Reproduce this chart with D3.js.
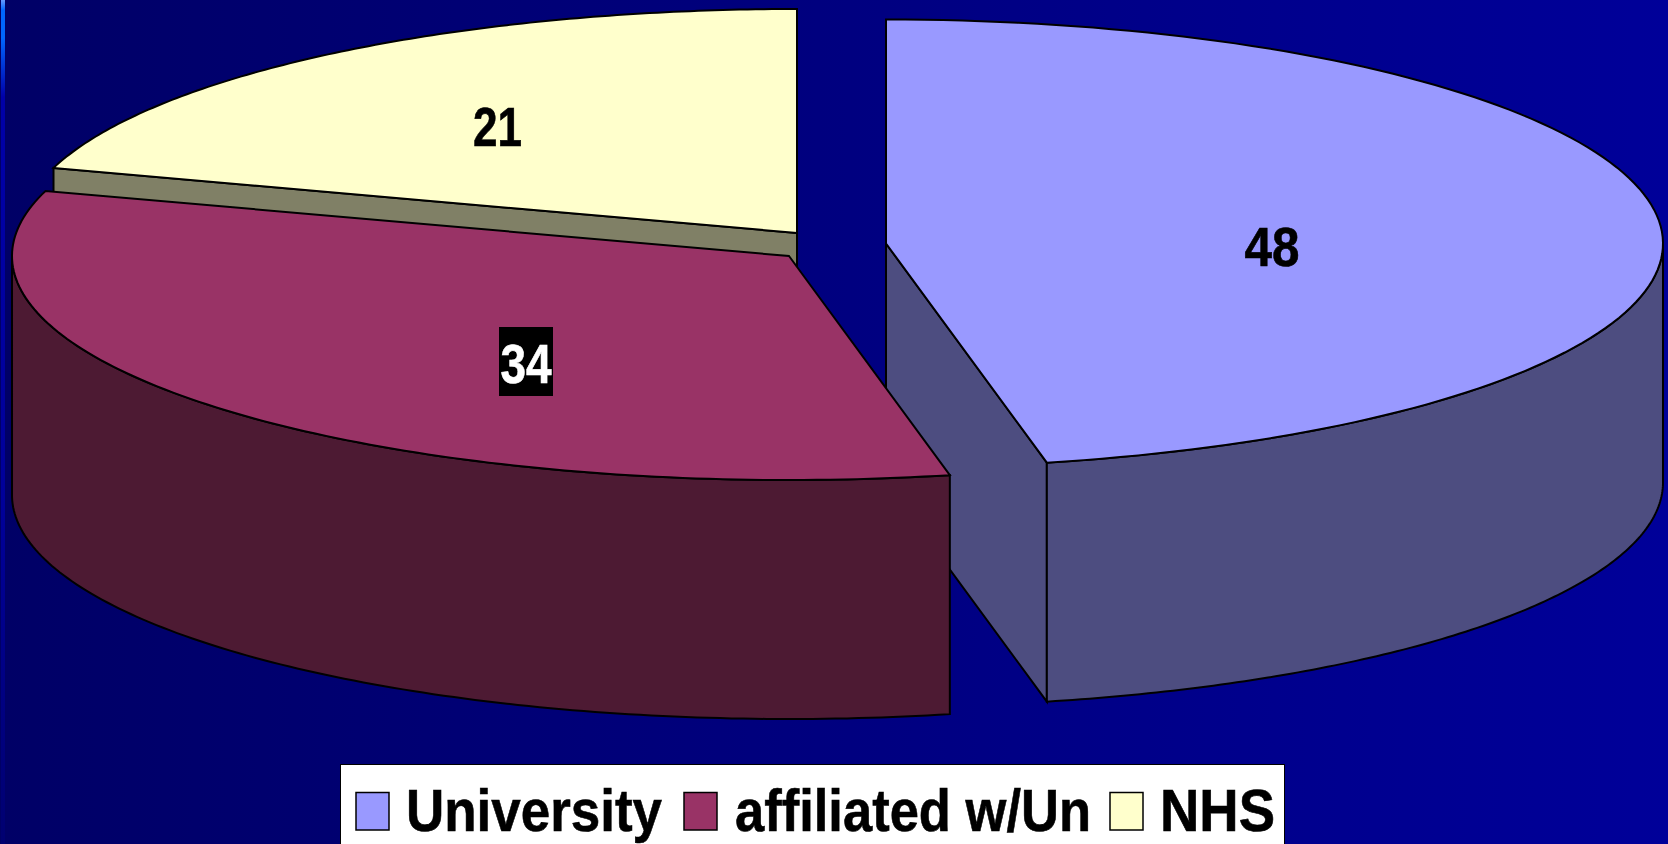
<!DOCTYPE html>
<html><head><meta charset="utf-8">
<script src="https://cdn.jsdelivr.net/npm/d3@7"></script>
<style>html,body{margin:0;padding:0;background:#000080;overflow:hidden}svg{display:block}</style>
</head><body><svg id="c" width="1668" height="844"></svg>
<script>
// data
const categories = ["University", "affiliated w/Un", "NHS"];
const values = [48, 34, 21];
const topColors = ["#9999FF", "#993366", "#FFFFCC"];
const wallColors = ["#4D4D80", "#4D1A33", "#808066"];

// layout
const W = 1668, H = 844, RX = 777, RY = 224, DEPTH = 239;
const centers = [[886, 243.5], [789, 256], [797, 233]];
const labelPos = [[1272, 266], [526, 383], [497.5, 146]];
const labelLen = [55, 51, 49];
const legendText = [[406, 256], [735, 356], [1160, 115]];
const legendSwatch = [356, 684, 1110];

const svg = d3.select("#c");
const defs = svg.append("defs");
const bg = defs.append("linearGradient").attr("id", "bg");
bg.append("stop").attr("offset", 0).attr("stop-color", "#000066");
bg.append("stop").attr("offset", 1).attr("stop-color", "#000099");
const st = defs.append("linearGradient").attr("id", "strip").attr("x1", 0).attr("y1", 0).attr("x2", 0).attr("y2", 1);
[[0, "#6699ff"], [0.012, "#0066ff"], [0.045, "#0066ff"], [0.115, "#0000a8"], [0.6, "#000099"], [1, "#000070"]]
  .forEach(d => st.append("stop").attr("offset", d[0]).attr("stop-color", d[1]));

svg.append("rect").attr("width", W).attr("height", H).attr("fill", "url(#bg)");
svg.append("rect").attr("x", 1).attr("width", 4).attr("height", H).attr("fill", "url(#strip)");

const slices = d3.pie().sort(null).value(d => d)(values);
// small angular correction for the chart's 3D projection; zero at 12 o'clock
const warp = a => a + 0.005 * Math.min(1, a, 2 * Math.PI - a);
const rimPoint = (c, a, dy = 0) => [c[0] + RX * Math.sin(warp(a)), c[1] - RY * Math.cos(warp(a)) + dy];
const arcAngles = (a0, a1) => d3.range(0, 121).map(i => a0 + (a1 - a0) * i / 120);
const line = d3.line();
const drawPoly = (pts, fill) => svg.append("path")
  .attr("d", line(pts) + "Z").attr("fill", fill)
  .attr("stroke", "#000").attr("stroke-width", 2).attr("stroke-linejoin", "miter");

// walls, back slice first
[2, 0, 1].forEach(i => {
  const s = slices[i], c = centers[i];
  const pS = rimPoint(c, s.startAngle), pE = rimPoint(c, s.endAngle);
  if (i === 2) {
    drawPoly([pS, c, [c[0], c[1] + DEPTH], [pS[0], pS[1] + DEPTH]], wallColors[i]);
  }
  if (i === 0) {
    drawPoly([c, pE, [pE[0], pE[1] + DEPTH], [c[0], c[1] + DEPTH]], wallColors[i]);
  }
  const a0 = Math.max(s.startAngle, Math.PI / 2), a1 = Math.min(s.endAngle, 1.5 * Math.PI);
  if (a1 > a0) {
    const top = arcAngles(a0, a1).map(a => rimPoint(c, a));
    const bot = arcAngles(a1, a0).map(a => rimPoint(c, a, DEPTH));
    drawPoly(top.concat(bot), wallColors[i]);
  }
});
// top faces
[2, 0, 1].forEach(i => {
  const s = slices[i], c = centers[i];
  drawPoly([c].concat(arcAngles(s.startAngle, s.endAngle).map(a => rimPoint(c, a))), topColors[i]);
});

// data labels
const font = "'Liberation Sans', Arial, sans-serif";
svg.append("rect").attr("x", 499).attr("y", 327).attr("width", 54).attr("height", 69).attr("fill", "#000");
svg.selectAll("text.val").data(values).join("text").attr("class", "val")
  .attr("x", (d, i) => labelPos[i][0]).attr("y", (d, i) => labelPos[i][1])
  .attr("text-anchor", "middle")
  .attr("textLength", (d, i) => labelLen[i]).attr("lengthAdjust", "spacingAndGlyphs")
  .attr("font-family", font).attr("font-weight", "bold").attr("font-size", 55)
  .attr("stroke", (d, i) => i === 1 ? "#fff" : "#000").attr("stroke-width", 0.6)
  .attr("fill", (d, i) => i === 1 ? "#fff" : "#000").text(d => d);

// legend
svg.append("rect").attr("x", 340.5).attr("y", 764.5).attr("width", 944).attr("height", 90)
  .attr("fill", "#fff").attr("stroke", "#000").attr("stroke-width", 1);
const lg = svg.selectAll("g.lg").data(categories).join("g").attr("class", "lg");
lg.append("rect").attr("x", (d, i) => legendSwatch[i]).attr("y", 792.5).attr("width", 33).attr("height", 37.5)
  .attr("fill", (d, i) => topColors[i]).attr("stroke", "#000").attr("stroke-width", 1.5);
lg.append("text").attr("x", (d, i) => legendText[i][0]).attr("y", 831)
  .attr("textLength", (d, i) => legendText[i][1]).attr("lengthAdjust", "spacingAndGlyphs")
  .attr("font-family", font).attr("font-weight", "bold").attr("font-size", 60)
  .attr("stroke", "#000").attr("stroke-width", 0.6)
  .attr("fill", "#000").text(d => d);
</script></body></html>
